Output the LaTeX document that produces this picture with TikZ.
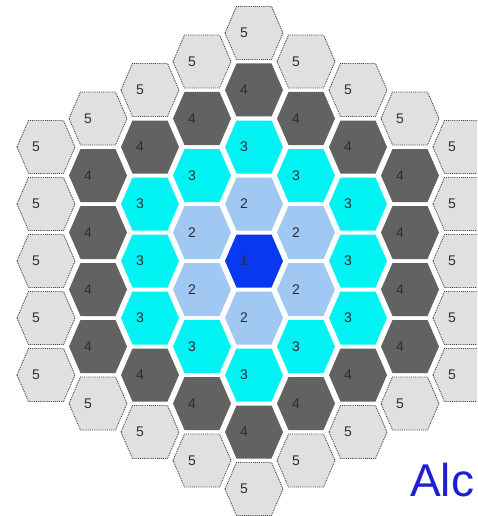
\documentclass[tikz,border=0pt]{standalone}
\usepackage{fontspec}
\setmainfont{Liberation Sans}
\definecolor{ring0}{RGB}{8,56,240}
\definecolor{ring1}{RGB}{160,200,242}
\definecolor{ring2}{RGB}{0,242,242}
\definecolor{ring3}{RGB}{98,98,98}
\definecolor{ring4}{RGB}{224,224,224}
\definecolor{labelgray}{RGB}{45,45,55}
\definecolor{algblue}{RGB}{30,30,215}
\tikzset{
  hexlabel/.style={text=labelgray, font=\fontsize{14}{14}\selectfont, inner sep=0pt},
  outerborder/.style={draw=black!75, densely dotted, line width=0.9pt},
}
\begin{document}
\begin{tikzpicture}[x=1pt,y=-1pt]
\clip (0,0) rectangle (477,516);
\fill[white] (0,0) rectangle (477,516);
\foreach \q in {-4,...,4} {
  \foreach \r in {-4,...,4} {
    \pgfmathtruncatemacro\s{-\q-\r}
    \pgfmathtruncatemacro\d{max(abs(\q),abs(\r),abs(\s))}
    \pgfmathtruncatemacro\lab{\d+1}
    \pgfmathsetmacro\cx{254+52*\q}
    \pgfmathsetmacro\cy{261+57*(\r+0.5*\q)}
    \ifnum\d<5
      \ifnum\d=4
        \fill[ring\d, shift={(\cx,\cy)}] (-29,0) -- (-17.5,-26.5) -- (17.5,-26.5) -- (29,0) -- (17.5,26.5) -- (-17.5,26.5) -- cycle;
        \draw[outerborder, shift={(\cx,\cy)}] (-29,0) -- (-17.5,-26.5) -- (17.5,-26.5) -- (29,0) -- (17.5,26.5) -- (-17.5,26.5) -- cycle;
      \else
        \fill[ring\d, shift={(\cx,\cy)}] (-29,0) -- (-17.5,-26.5) -- (17.5,-26.5) -- (29,0) -- (17.5,26.5) -- (-17.5,26.5) -- cycle;
      \fi
      \node[hexlabel] (hex\q r\r) at (\cx-10,\cy) {\lab};
    \fi
  }
}
\node[anchor=base west, inner sep=0pt, text=algblue, font=\fontsize{46}{46}\selectfont] (alc) at (410,496) {Alc};
\end{tikzpicture}
\end{document}
